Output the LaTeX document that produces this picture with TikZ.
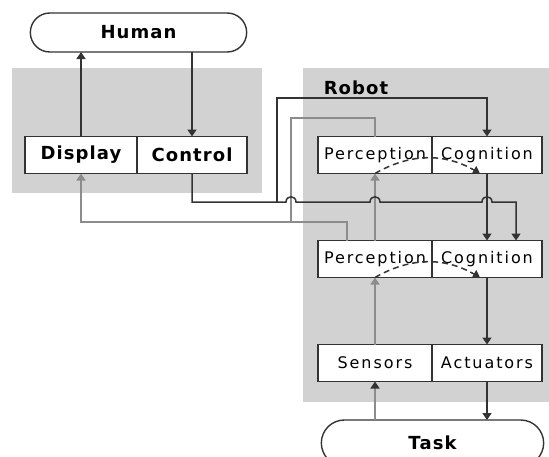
\documentclass[tikz,border=0pt]{standalone}
\usepackage{fontspec}
\setmainfont{DejaVu Sans}
\newfontfamily\lblfont[LetterSpace=12]{DejaVu Sans}
\newfontfamily\hdfont[LetterSpace=6]{DejaVu Sans}
\usetikzlibrary{arrows.meta,positioning,shapes.misc,calc}

\begin{document}
\begin{tikzpicture}[
  x=1pt, y=-1pt, >={Triangle[width=9pt,length=7pt]},
  panel/.style={fill=gray!35},
  part/.style={rectangle, draw=black!80, line width=1.6pt, fill=white,
    minimum height=37pt, outer sep=0pt, inner sep=0pt,
    font=\lblfont\fontsize{16}{18}\selectfont},
  bold/.style={font=\hdfont\bfseries\fontsize{18}{20}\selectfont},
  pill/.style={rounded rectangle, draw=black!80, line width=1.4pt, fill=white,
    outer sep=0pt, bold},
  blk/.style={draw=black!80, line width=1.5pt},
  gry/.style={draw=black!45, line width=1.5pt}
]
\clip (0,0) rectangle (549,456);
\fill[panel] (12,68) rectangle (262,193);
\fill[panel] (303,68) rectangle (549,402);

\node[pill, minimum width=223pt, minimum height=39pt] (hum) at (138.5,32.5) {Human};
\node[part, bold, minimum width=112pt] (disp) at (81,155) {Display};
\node[part, bold, minimum width=110pt, right=0pt of disp] (ctrl) {Control};

\node[bold] (rob) at (356,88) {Robot};
\node[part, minimum width=114pt] (p1) at (375,155) {Perception};
\node[part, minimum width=110pt, right=0pt of p1] (c1) {Cognition};
\node[part, minimum width=114pt, below=67pt of p1] (p2) {Perception};
\node[part, minimum width=110pt, right=0pt of p2] (c2) {Cognition};
\node[part, minimum width=114pt, below=67pt of p2] (sen) {Sensors};
\node[part, minimum width=110pt, right=0pt of sen] (act) {Actuators};
\node[pill, minimum width=229pt, minimum height=46pt] (task) at (432.5,443) {Task};

\coordinate (tap) at (277,202);
\coordinate (upc) at (277,98);
\coordinate (fb) at (291,222);
\coordinate (upg) at (291,118);

\draw[blk,->] (disp.north) -- (disp.north |- hum.south);
\draw[blk,->] (ctrl.north |- hum.south) -- (ctrl.north);

\draw[gry,->] ($(p2.north)+(-28,0)$) |- (fb) -| (disp.south);
\draw[gry] (p1.north) |- (upg) -- (fb);
\draw[gry,->] (p2.north) -- (p1.south);
\draw[gry,->] (sen.north) -- (p2.south);
\draw[gry,-{Triangle[width=9pt,length=7pt,color=black!80]}] (sen.south |- task.north) -- (sen.south);

\draw[blk,->] (ctrl.south) |- (tap)
  -- ($(tap -| upg)+(-5,0)$) .. controls +(0,-7) and +(0,-7) .. ++(10,0)
  -- ($(tap -| p1.south)+(-5,0)$) .. controls +(0,-7) and +(0,-7) .. ++(10,0)
  -- ($(tap -| c1.south)+(-5,0)$) .. controls +(0,-7) and +(0,-7) .. ++(10,0)
  -| ($(c2.north)+(29,0)$);
\draw[blk,->] (tap) -- (upc) -| (c1.north);
\draw[blk,->] (c1.south) -- (c2.north);
\draw[blk,->] (c2.south) -- (act.north);
\draw[blk,->] (act.south) -- (act.south |- task.north);

\draw[blk,dash pattern=on 6pt off 4pt,->] (p1.south) to[bend left=30] ($(c1.south)+(-7,0)$);
\draw[blk,dash pattern=on 6pt off 4pt,->] (p2.south) to[bend left=30] ($(c2.south)+(-7,0)$);
\end{tikzpicture}
\end{document}
